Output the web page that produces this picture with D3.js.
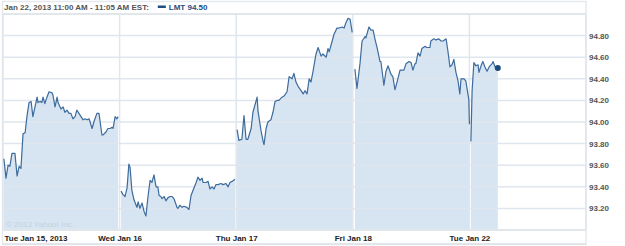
<!DOCTYPE html>
<html>
<head>
<meta charset="utf-8">
<script src="https://cdn.jsdelivr.net/npm/d3@7/dist/d3.min.js"></script>
<style>
  body { margin: 0; background: #fff; }
  svg { display: block; }
</style>
</head>
<body>
<svg id="chart" width="625" height="246"></svg>
<script>
const SESSION = 390; // minutes in a trading day
const FONT = "'Liberation Sans', Arial, sans-serif";

const dayLabels = ["Tue Jan 15, 2013", "Wed Jan 16", "Thu Jan 17", "Fri Jan 18", "Tue Jan 22"];
const priceTicks = [93.2, 93.4, 93.6, 93.8, 94.0, 94.2, 94.4, 94.6, 94.8];

// [minute of session, price]
const jan15 = [[3,93.66],[10,93.48],[17,93.60],[23,93.59],[30,93.71],[40,93.71],[47,93.50],[54,93.59],[60,93.57],
  [67,93.89],[74,93.90],[80,94.05],[87,94.18],[94,94.19],[100,94.05],[107,94.14],[114,94.23],[117,94.18],[124,94.19],
  [130,94.18],[134,94.23],[140,94.17],[147,94.23],[154,94.28],[164,94.27],[167,94.25],[174,94.14],[181,94.23],
  [184,94.18],[194,94.12],[201,94.14],[207,94.09],[214,94.11],[221,94.08],[227,94.08],[234,94.03],[241,94.05],
  [247,94.11],[254,94.08],[261,94.05],[268,94.02],[274,94.03],[281,94.02],[288,94.03],[298,93.94],[304,94.00],
  [314,94.08],[321,94.08],[331,93.88],[335,93.88],[345,93.91],[351,93.94],[358,93.94],[365,93.95],[368,93.94],
  [375,94.05],[381,94.03],[385,94.05]];
const jan16 = [[5,93.36],[11,93.33],[18,93.31],[25,93.39],[31,93.61],[35,93.58],[41,93.37],[48,93.28],[58,93.21],
  [62,93.26],[68,93.20],[75,93.25],[82,93.17],[88,93.13],[95,93.31],[102,93.46],[108,93.44],[115,93.51],[122,93.40],
  [128,93.40],[132,93.32],[138,93.31],[142,93.29],[149,93.31],[155,93.27],[162,93.30],[169,93.31],[175,93.31],
  [182,93.29],[192,93.21],[195,93.20],[202,93.23],[209,93.21],[215,93.22],[225,93.21],[232,93.19],[239,93.32],
  [246,93.37],[256,93.44],[262,93.49],[269,93.46],[276,93.48],[279,93.44],[289,93.44],[296,93.45],[302,93.38],
  [309,93.40],[316,93.38],[322,93.42],[329,93.42],[339,93.43],[346,93.42],[356,93.43],[363,93.40],[369,93.44],
  [376,93.45],[386,93.47]];
const jan17 = [[3,93.93],[9,93.83],[19,93.84],[26,94.06],[33,93.84],[39,93.84],[50,93.94],[56,94.09],[70,94.23],
  [73,94.10],[83,93.92],[90,93.82],[93,93.79],[100,93.94],[106,94.00],[116,94.02],[123,94.09],[130,94.19],[136,94.20],
  [143,94.20],[153,94.23],[160,94.24],[170,94.28],[177,94.42],[187,94.40],[193,94.45],[200,94.37],[207,94.33],
  [217,94.29],[224,94.26],[230,94.29],[237,94.26],[244,94.40],[250,94.37],[257,94.47],[267,94.63],[274,94.69],
  [284,94.61],[290,94.63],[301,94.60],[307,94.68],[311,94.65],[321,94.75],[327,94.81],[337,94.87],[344,94.87],
  [354,94.88],[361,94.87],[367,94.92],[374,94.96],[381,94.95],[388,94.83]];
const jan18 = [[7,94.49],[14,94.31],[24,94.54],[31,94.75],[41,94.79],[44,94.78],[54,94.88],[61,94.85],[68,94.85],
  [74,94.77],[81,94.69],[91,94.56],[94,94.56],[104,94.34],[111,94.47],[118,94.52],[128,94.44],[134,94.42],[141,94.30],
  [148,94.37],[158,94.48],[164,94.48],[171,94.48],[178,94.54],[188,94.56],[195,94.55],[201,94.48],[208,94.54],
  [211,94.54],[218,94.64],[225,94.61],[231,94.68],[241,94.70],[248,94.69],[258,94.69],[261,94.75],[271,94.77],
  [278,94.76],[288,94.77],[295,94.75],[302,94.75],[312,94.77],[318,94.66],[325,94.51],[332,94.53],[338,94.58],
  [345,94.46],[352,94.38],[358,94.26],[362,94.40],[372,94.40],[378,94.38],[388,94.21],[390,93.98]];
const jan22 = [[5,93.82],[9,94.29],[15,94.55],[22,94.52],[29,94.53],[32,94.46],[39,94.52],[45,94.56],[52,94.51],
  [59,94.47],[66,94.51],[76,94.54],[79,94.56],[86,94.51],[95,94.50]];

const sessions = [jan15, jan16, jan17, jan18, jan22];
const lastLabel = "LMT 94.50";
const headerText = "Jan 22, 2013 11:00 AM - 11:05 AM EST:";

const plotLeft = 3, plotRight = 586, plotTop = 14, plotBottom = 230;

const x = d3.scaleLinear().domain([0, SESSION * sessions.length]).range([plotLeft, plotRight]);
const y = d3.scaleLinear().domain([93, 95]).range([plotBottom, plotTop]);

const svg = d3.select("#chart");

// outer frame
svg.append("rect")
  .attr("x", 2.5).attr("y", 1.5)
  .attr("width", plotRight - 2.5).attr("height", 243)
  .attr("fill", "none").attr("stroke", "#e6eaee").attr("stroke-width", 1.5);
svg.append("line")
  .attr("x1", 2.5).attr("x2", plotRight).attr("y1", plotTop).attr("y2", plotTop)
  .attr("stroke", "#e1e6eb").attr("stroke-width", 2);

// header
const header = svg.append("g").attr("font-family", FONT)
  .attr("font-size", 8).attr("font-weight", "bold");
const headText = header.append("text").attr("x", 4).attr("y", 10).attr("fill", "#555").text(headerText);
const hx = 4 + headText.node().getComputedTextLength() + 9;
header.append("rect").attr("x", hx).attr("y", 5.5).attr("width", 8).attr("height", 2.5).attr("fill", "#1f4e83");
header.append("text").attr("x", hx + 11).attr("y", 10).attr("fill", "#1f4e83").text(lastLabel);

// areas under each session
const area = d3.area()
  .x(d => x(d.t))
  .y0(plotBottom)
  .y1(d => y(d.p));
const line = d3.line()
  .x(d => x(d.t))
  .y(d => y(d.p));

const series = sessions.map((s, i) => s.map(([m, p]) => ({ t: i * SESSION + m, p })));

svg.append("g").selectAll("path")
  .data(series)
  .join("path")
  .attr("d", area)
  .attr("fill", "#d6e5f1");

// grid
const grid = svg.append("g").attr("stroke", "#dfe6ed").attr("stroke-width", 1.5);
grid.selectAll(".h")
  .data(priceTicks)
  .join("line")
  .attr("x1", plotLeft).attr("x2", plotRight)
  .attr("y1", d => y(d)).attr("y2", d => y(d));
grid.selectAll(".v")
  .data(d3.range(dayLabels.length + 1))
  .join("line")
  .attr("x1", d => x(d * SESSION)).attr("x2", d => x(d * SESSION))
  .attr("y1", plotTop).attr("y2", plotBottom);
grid.append("line").attr("x1", plotLeft).attr("x2", plotRight).attr("y1", plotBottom).attr("y2", plotBottom)
  .attr("stroke", "#e1e6eb").attr("stroke-width", 2);
grid.append("line").attr("x1", plotLeft).attr("x2", plotRight).attr("y1", 244).attr("y2", 244)
  .attr("stroke", "#e1e6eb").attr("stroke-width", 2);

// watermark
svg.append("text")
  .attr("x", 6).attr("y", 227)
  .attr("font-family", FONT).attr("font-size", 8)
  .attr("fill", "#c3d3e0")
  .text("\u00a9 2013 Yahoo! Inc.");

// lines
svg.append("g").selectAll("path")
  .data(series)
  .join("path")
  .attr("d", line)
  .attr("fill", "none")
  .attr("stroke", "#3d6b9d")
  .attr("stroke-width", 1.2)
  .attr("stroke-linejoin", "round");

const last = series[series.length - 1].at(-1);
svg.append("circle")
  .attr("cx", x(last.t)).attr("cy", y(last.p)).attr("r", 3)
  .attr("fill", "#1b4a7e");

// y axis on the right
const yAxis = svg.append("g")
  .attr("transform", `translate(${plotRight},0)`)
  .call(d3.axisRight(y).tickValues(priceTicks).tickFormat(d3.format(".2f")).tickSize(0).tickPadding(3));
yAxis.select(".domain").remove();
yAxis.selectAll("text")
  .attr("font-family", FONT)
  .attr("font-size", 8).attr("font-weight", "bold").attr("fill", "#555");

// x axis labels
const xAxis = svg.append("g")
  .attr("transform", `translate(0,${plotBottom})`)
  .call(d3.axisBottom(x).tickValues(d3.range(dayLabels.length).map(d => d * SESSION))
    .tickFormat((d, i) => dayLabels[i]).tickSize(0).tickPadding(5));
xAxis.select(".domain").remove();
xAxis.selectAll("text")
  .attr("font-family", FONT)
  .attr("font-size", 8).attr("font-weight", "bold").attr("fill", "#222")
  .attr("text-anchor", (d, i) => i === 0 ? "start" : "middle")
  .attr("dx", (d, i) => i === 0 ? 1 : 0);
</script>
</body>
</html>
